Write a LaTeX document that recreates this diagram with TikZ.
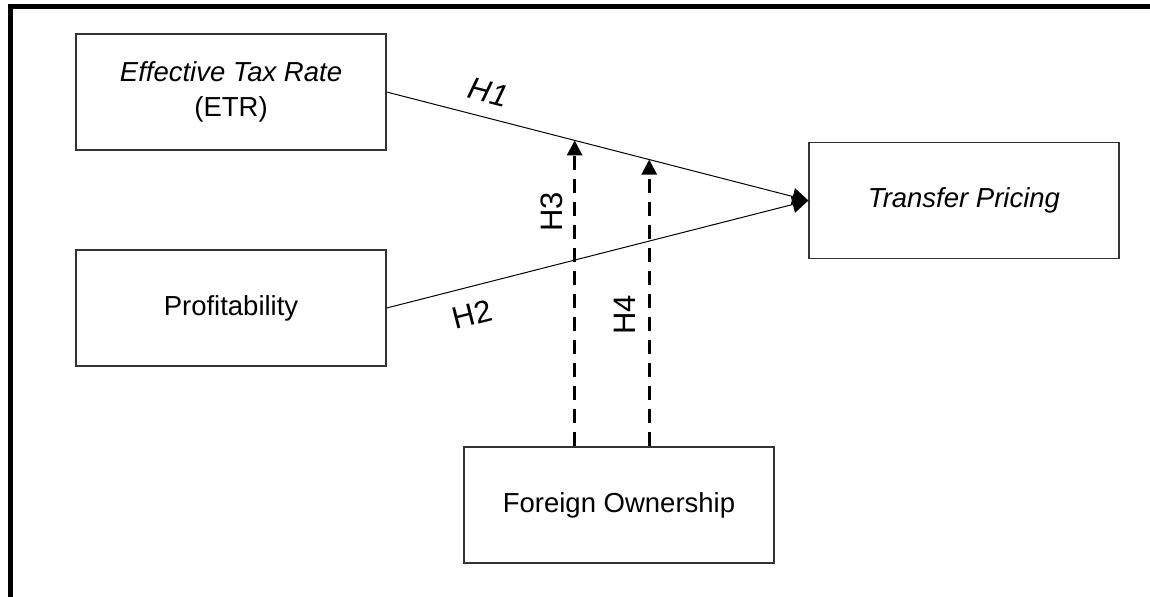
\documentclass[tikz,border=0pt]{standalone}
\usepackage{fontspec}
\setmainfont{Liberation Sans}
\usetikzlibrary{arrows.meta,calc}
\begin{document}
\begin{tikzpicture}[x=0.5pt,y=-0.5pt,
  box/.style={draw=black!80, line width=0.65pt, minimum width=155pt, minimum height=58pt,
    inner sep=0pt, align=center, font=\fontsize{13.75}{17.5}\selectfont},
  link/.style={line width=0.5pt, -{Triangle[length=8pt,width=8.5pt]}},
  dasharrow/.style={line width=1.4pt, dash pattern=on 7pt off 4.5pt,
    -{Triangle[length=7.5pt,width=7.5pt]}},
  lbl/.style={font=\fontsize{15.5}{18}\selectfont, inner sep=0pt},
  outerframe/.style={line width=2.5pt, line join=miter}]
\useasboundingbox (0,0) rectangle (1150,596);
\draw[outerframe] (10,605) -- (10,6) -- (1160,6);

\node[box] (etr) at (231,92) {\textit{Effective Tax Rate}\\(ETR)};
\node[box] (prof) at (231,308) {Profitability};
\node[box] (tp) at (964,200.5) {\textit{Transfer Pricing}};
\node[box] (fo) at (619,505) {Foreign Ownership};

\draw[link] (etr.east) -- node[lbl, sloped, above=7pt, pos=0.226] (h1) {\textit{H1}} (tp.west);
\draw[link] (prof.east) -- node[lbl, sloped, below=8pt, pos=0.186] (h2) {H2} (tp.west);

\coordinate (m3) at ($(etr.east)!0.4458!(tp.west)$);
\coordinate (m4) at ($(etr.east)!0.6226!(tp.west)$);
\draw[dasharrow] (fo.north -| m3) -- (m3);
\draw[dasharrow] (fo.north -| m4) -- (m4);

\node[lbl, rotate=90] (h3) at (552,212) {H3};
\node[lbl, rotate=90] (h4) at (625,315) {H4};
\end{tikzpicture}
\end{document}
